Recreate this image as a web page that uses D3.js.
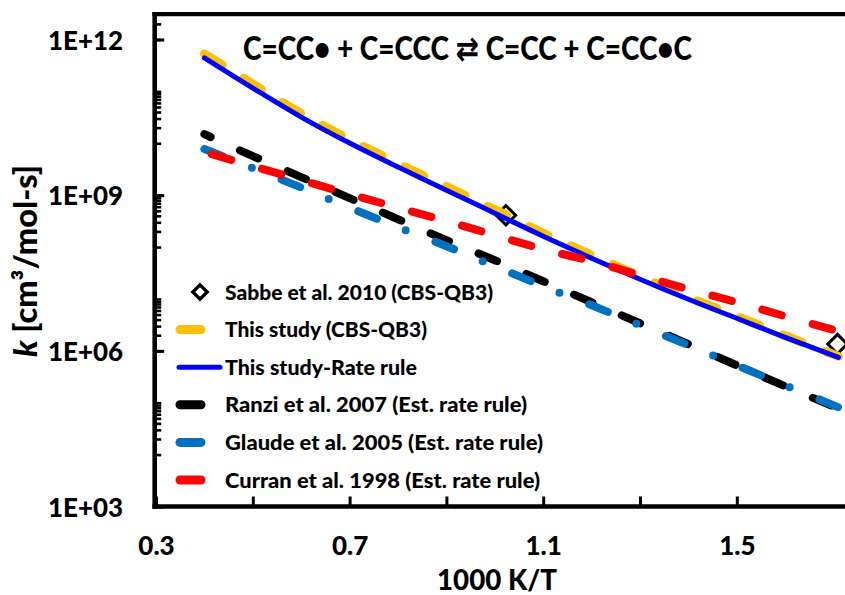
<!DOCTYPE html>
<html><head><meta charset="utf-8">
<script src="https://cdn.jsdelivr.net/npm/d3@7"></script>
<style>
html,body{margin:0;padding:0;background:#fff;overflow:hidden}
text{font-family:Lato,"DejaVu Sans",sans-serif;font-weight:900;fill:#000}
</style>
</head><body>
<svg id="chart" width="845" height="595"></svg>
<script>
// ---------- data ----------
const invT = [0.4, 0.5, 0.6, 0.7, 0.8, 0.9, 1.0, 1.1, 1.2, 1.3, 1.4, 1.5, 1.6, 1.71];
const kThisStudyCBS = [5.26e11, 1.39e11, 3.74e10, 1.18e10, 4.06e9, 1.46e9, 5.26e8, 1.85e8, 6.97e7, 2.74e7, 1.08e7, 4.63e6, 1.95e6, 7.83e5];
const kRateRule     = [4.41e11, 1.16e11, 3.20e10, 1.01e10, 3.48e9, 1.25e9, 4.50e8, 1.62e8, 6.10e7, 2.40e7, 9.86e6, 4.24e6, 1.82e6, 7.50e5];
const kRanzi        = [1.50e10, 5.66e9, 2.23e9, 8.75e8, 3.44e8, 1.36e8, 5.57e7, 2.19e7, 8.63e6, 3.40e6, 1.34e6, 5.25e5, 2.07e5, 7.78e4];
const kGlaude       = [7.73e9, 3.32e9, 1.40e9, 5.74e8, 2.42e8, 1.04e8, 4.28e7, 1.76e7, 7.55e6, 3.10e6, 1.28e6, 5.25e5, 2.16e5, 8.13e4];
const kCurran       = [6.76e9, 3.63e9, 1.95e9, 1.05e9, 5.74e8, 3.16e8, 1.69e8, 9.08e7, 5.33e7, 2.86e7, 1.54e7, 8.63e6, 4.63e6, 2.38e6];
const sabbeInvT = [1.023, 1.708];
const sabbeK    = [4.11e8, 1.35e6];

const seriesNames = [
  "Sabbe et al. 2010 (CBS-QB3)",
  "This study (CBS-QB3)",
  "This study-Rate rule",
  "Ranzi et al. 2007 (Est. rate rule)",
  "Glaude et al. 2005 (Est. rate rule)",
  "Curran et al. 1998 (Est. rate rule)"
];
const xTicks = [0.3, 0.5, 0.7, 0.9, 1.1, 1.3, 1.5];
const xTickLabels = ["0.3", "", "0.7", "", "1.1", "", "1.5"];
const yMajor = [1e3, 1e6, 1e9, 1e12];
const yMajorLabels = ["1E+03", "1E+06", "1E+09", "1E+12"];
const yMinorDecades = [4, 6, 8, 10, 12];
const titleText = "C=CC\u2022 + C=CCC \u21C4 C=CC + C=CC\u2022C";
const xTitle = "1000 K/T";

// ---------- layout ----------
const svg = d3.select("#chart");
const x = d3.scaleLinear().domain([0.3, 1.75]).range([156, 857.8]);
const y = d3.scaleLog().domain([1e3, 1e12]).range([506.5, 39.5]);
const yTop = y(Math.pow(10, 12.49));
const axisX0 = 154.7;

function squeeze(sel, target) {
  sel.attr("textLength", target).attr("lengthAdjust", "spacingAndGlyphs");
}

// ---------- series ----------
const line = d3.line().x(d => x(d[0])).y(d => y(d[1])).curve(d3.curveCatmullRom);
const gPlot = svg.append("g");

const diamond = d3.symbol().type(d3.symbolDiamond2);
gPlot.selectAll(".sabbe").data(d3.zip(sabbeInvT, sabbeK)).join("path")
  .attr("d", diamond.size(240)())
  .attr("transform", d => `translate(${x(d[0])},${y(d[1])})`)
  .attr("fill", "#fff").attr("stroke", "#000").attr("stroke-width", 3);

const lineSeries = [
  {k: kThisStudyCBS, color: "#FFC000", w: 9, dash: "21,25", off: 0},
  {k: kRateRule,     color: "#0000FF", w: 5, dash: null, off: 0},
  {k: kRanzi,        color: "#000000", w: 8, dash: "20,32", off: 13},
  {k: kGlaude,       color: "#0070C0", w: 8, dash: "20,31,0,32", off: 0},
  {k: kCurran,       color: "#FF0000", w: 8, dash: "20,32", off: 44}
];
lineSeries.forEach(s => {
  gPlot.append("path").datum(d3.zip(invT, s.k))
    .attr("d", line).attr("fill", "none")
    .attr("stroke", s.color).attr("stroke-width", s.w)
    .attr("stroke-linecap", "round")
    .attr("stroke-dasharray", s.dash)
    .attr("stroke-dashoffset", s.off);
});

// ---------- axes ----------
const gx = svg.append("g").attr("transform", `translate(0,${y(1e3)})`)
  .call(d3.axisBottom(x).tickValues(xTicks).tickSizeInner(-10).tickSizeOuter(0).tickPadding(30)
    .tickFormat((d, i) => xTickLabels[i]));
gx.select(".domain").remove();
gx.selectAll(".tick line").attr("stroke", "#000").attr("stroke-width", 3);
gx.selectAll(".tick text").style("font-size", "26px").style("font-family", "Lato, sans-serif").style("font-weight", 900);

const gy = svg.append("g").attr("transform", `translate(${axisX0},0)`)
  .call(d3.axisLeft(y).tickValues(yMajor).tickSizeInner(-9.5).tickSizeOuter(0).tickPadding(31.7)
    .tickFormat((d, i) => yMajorLabels[i]));
gy.select(".domain").remove();
gy.selectAll(".tick line").attr("stroke", "#000").attr("stroke-width", 3);
gy.selectAll(".tick text").style("font-size", "27px").style("font-family", "Lato, sans-serif").style("font-weight", 900)
  .attr("dy", "0.36em").attr("textLength", 75).attr("lengthAdjust", "spacingAndGlyphs");

const yMinor = [];
yMinorDecades.forEach(e => { for (let n = 1; n <= 10; n++) { const v = n * Math.pow(10, e); if (y(v) > yTop + 2) yMinor.push(v); } });
const gym = svg.append("g").attr("transform", `translate(${axisX0},0)`)
  .call(d3.axisLeft(y).tickValues(yMinor).tickSizeInner(-6.5).tickSizeOuter(0).tickFormat(""));
gym.select(".domain").remove();
gym.selectAll(".tick line").attr("stroke", "#000").attr("stroke-width", 2.6);

svg.append("line").attr("x1", axisX0).attr("x2", axisX0).attr("y1", yTop - 2).attr("y2", y(1e3) + 2.25)
  .attr("stroke", "#000").attr("stroke-width", 4.6);
svg.append("line").attr("x1", axisX0 - 2.3).attr("x2", 860).attr("y1", y(1e3)).attr("y2", y(1e3))
  .attr("stroke", "#000").attr("stroke-width", 4.5);
svg.append("line").attr("x1", axisX0 - 2.3).attr("x2", 860).attr("y1", yTop).attr("y2", yTop)
  .attr("stroke", "#000").attr("stroke-width", 4.2);

// ---------- titles ----------
const t = svg.append("text").attr("x", 243).attr("y", 60)
  .style("font-size", "33px").text(titleText);
squeeze(t, 449);

const xt = svg.append("text").attr("x", 437).attr("y", 590)
  .style("font-size", "28px").text(xTitle);
squeeze(xt, 120);

const yt = svg.append("text").attr("transform", "translate(37,357) rotate(-90)")
  .style("font-size", "32px");
yt.append("tspan").style("font-style", "italic").text("k");
yt.append("tspan").text(" [cm\u00B3/mol-s]");
squeeze(yt, 192);

// ---------- legend ----------
const legY0 = 292, legDy = 37.6;
const legTargets = [268, 202, 192, 302, 318, 315];
const gLeg = svg.append("g");
gLeg.selectAll("text").data(seriesNames).join("text")
  .attr("x", 225).attr("y", (d, i) => legY0 + i * legDy)
  .attr("dy", "0.36em").style("font-size", "21px").text(d => d)
  .attr("textLength", (d, i) => legTargets[i]).attr("lengthAdjust", "spacingAndGlyphs");

gLeg.append("path").attr("d", diamond.size(130)())
  .attr("transform", `translate(200,${legY0})`)
  .attr("fill", "#fff").attr("stroke", "#000").attr("stroke-width", 3.4);
lineSeries.forEach((s, i) => {
  const yy = legY0 + (i + 1) * legDy;
  const solid = s.dash === null;
  gLeg.append("line").attr("x1", solid ? 179 : 180).attr("x2", solid ? 220 : 201)
    .attr("y1", yy).attr("y2", yy).attr("stroke", s.color).attr("stroke-width", solid ? 5 : 9)
    .attr("stroke-linecap", "round");
});
</script>
</body></html>
